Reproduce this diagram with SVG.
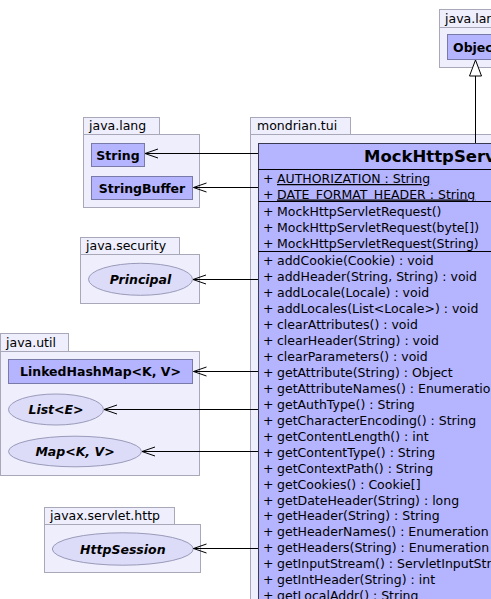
<svg xmlns="http://www.w3.org/2000/svg" width="491" height="599" viewBox="0 0 491 599">
<style>
  text { font-family: "DejaVu Sans", "Liberation Sans", sans-serif; font-size: 12.5px; fill: #000; }
  .pkg { fill: #EEEEFC; stroke: #A8A8B8; stroke-width: 1; }
  .cls { fill: #B4B4FF; stroke: #7A7AA8; stroke-width: 1; }
  .big { fill: #B4B4FF; stroke: #3A3A50; stroke-width: 1; }
  .ifc { fill: #DCDCF8; stroke: #9A9ABA; stroke-width: 1; }
  .b { font-weight: bold; }
  .bi { font-weight: bold; font-style: italic; }
  .c { text-anchor: middle; }
  .sep { stroke: #000; stroke-width: 1; }
  .edge { stroke: #000; stroke-width: 1; fill: none; }
  .u { text-decoration: underline; }
</style>
<defs>
  <marker id="open" markerUnits="userSpaceOnUse" viewBox="-15 -6 16 12" refX="0" refY="0" markerWidth="16" markerHeight="12" orient="auto" overflow="visible">
    <path d="M-13,-4.5 L0,0 L-13,4.5" fill="none" stroke="#000" stroke-width="1"/>
  </marker>
  <marker id="tri" markerUnits="userSpaceOnUse" viewBox="-17 -7 18 14" refX="0" refY="0" markerWidth="18" markerHeight="14" orient="auto" overflow="visible">
    <path d="M0,0 L-16,-6 L-16,6 Z" fill="#fff" stroke="#000" stroke-width="1"/>
  </marker>
</defs>

<!-- packages -->
<g id="pkg-java-lang-top">
  <rect class="pkg" x="439.5" y="9.5" width="70" height="18"/>
  <rect class="pkg" x="439.5" y="27.5" width="70" height="40"/>
  <text x="445" y="23">java.lang</text>
</g>
<g id="pkg-mondrian-tui">
  <rect class="pkg" x="250.5" y="117.5" width="100" height="17"/>
  <rect class="pkg" x="250.5" y="134.5" width="260" height="480"/>
  <text x="257" y="130">mondrian.tui</text>
</g>
<g id="pkg-java-lang">
  <rect class="pkg" x="83.5" y="117.5" width="76" height="17"/>
  <rect class="pkg" x="83.5" y="134.5" width="116" height="73"/>
  <text x="89" y="130">java.lang</text>
</g>
<g id="pkg-java-security">
  <rect class="pkg" x="80.5" y="237.5" width="99" height="17"/>
  <rect class="pkg" x="80.5" y="254.5" width="119" height="49"/>
  <text x="86" y="250">java.security</text>
</g>
<g id="pkg-java-util">
  <rect class="pkg" x="0.5" y="333.5" width="68" height="18"/>
  <rect class="pkg" x="0.5" y="351.5" width="199" height="124"/>
  <text x="6" y="347">java.util</text>
</g>
<g id="pkg-javax-servlet-http">
  <rect class="pkg" x="44.5" y="507.5" width="130" height="17"/>
  <rect class="pkg" x="44.5" y="524.5" width="156" height="48"/>
  <text x="50" y="520">javax.servlet.http</text>
</g>

<!-- nodes -->
<g id="node-Object">
  <rect class="cls" x="447.5" y="34.5" width="60" height="25"/>
  <text class="b" x="453" y="51.5">Object</text>
</g>
<g id="node-String">
  <rect class="cls" x="91.5" y="143.5" width="53" height="23"/>
  <text class="b c" x="118" y="159.5">String</text>
</g>
<g id="node-StringBuffer">
  <rect class="cls" x="91.5" y="176.5" width="101" height="23"/>
  <text class="b c" x="142" y="192.5">StringBuffer</text>
</g>
<g id="node-Principal">
  <ellipse class="ifc" cx="140.5" cy="279.3" rx="52" ry="16"/>
  <text class="bi c" x="140.5" y="283.8">Principal</text>
</g>
<g id="node-LinkedHashMap">
  <rect class="cls" x="8.5" y="359.5" width="184" height="24"/>
  <text class="b c" x="100.5" y="376">LinkedHashMap&lt;K, V&gt;</text>
</g>
<g id="node-List">
  <ellipse class="ifc" cx="56" cy="409.5" rx="47.5" ry="15.5"/>
  <text class="bi c" x="56" y="414">List&lt;E&gt;</text>
</g>
<g id="node-Map">
  <ellipse class="ifc" cx="75" cy="451.5" rx="66.5" ry="15.3"/>
  <text class="bi c" x="75" y="456">Map&lt;K, V&gt;</text>
</g>
<g id="node-HttpSession">
  <ellipse class="ifc" cx="122.8" cy="549" rx="70.5" ry="16.2"/>
  <text class="bi c" x="122.8" y="553.5">HttpSession</text>
</g>

<g id="node-MockHttpServletRequest">
  <rect class="big" x="258.5" y="143.5" width="460" height="480"/>
  <text x="364" y="162" style="font-size:16.5px;font-weight:bold">MockHttpServletRequest</text>
  <line class="sep" x1="258.5" y1="169.5" x2="718.5" y2="169.5"/>
  <g>
    <text x="263" y="183">+</text><text class="u" x="277" y="183">AUTHORIZATION : String</text>
    <text x="263" y="198.5">+</text><text class="u" x="277" y="198.5">DATE_FORMAT_HEADER : String</text>
  </g>
  <line class="sep" x1="258.5" y1="201.5" x2="718.5" y2="201.5"/>
  <g>
    <text x="263" y="215.5">+</text><text x="277" y="215.5">MockHttpServletRequest()</text>
    <text x="263" y="231.5">+</text><text x="277" y="231.5">MockHttpServletRequest(byte[])</text>
    <text x="263" y="247.5">+</text><text x="277" y="247.5">MockHttpServletRequest(String)</text>
  </g>
  <line class="sep" x1="258.5" y1="251.5" x2="718.5" y2="251.5"/>
  <g>
    <text x="263" y="265.2">+</text><text x="277" y="265.2">addCookie(Cookie) : void</text>
    <text x="263" y="281.1">+</text><text x="277" y="281.1">addHeader(String, String) : void</text>
    <text x="263" y="297.1">+</text><text x="277" y="297.1">addLocale(Locale) : void</text>
    <text x="263" y="313">+</text><text x="277" y="313">addLocales(List&lt;Locale&gt;) : void</text>
    <text x="263" y="329">+</text><text x="277" y="329">clearAttributes() : void</text>
    <text x="263" y="345">+</text><text x="277" y="345">clearHeader(String) : void</text>
    <text x="263" y="360.9">+</text><text x="277" y="360.9">clearParameters() : void</text>
    <text x="263" y="376.9">+</text><text x="277" y="376.9">getAttribute(String) : Object</text>
    <text x="263" y="392.8">+</text><text x="277" y="392.8">getAttributeNames() : Enumeration</text>
    <text x="263" y="408.8">+</text><text x="277" y="408.8">getAuthType() : String</text>
    <text x="263" y="424.7">+</text><text x="277" y="424.7">getCharacterEncoding() : String</text>
    <text x="263" y="440.7">+</text><text x="277" y="440.7">getContentLength() : int</text>
    <text x="263" y="456.6">+</text><text x="277" y="456.6">getContentType() : String</text>
    <text x="263" y="472.6">+</text><text x="277" y="472.6">getContextPath() : String</text>
    <text x="263" y="488.5">+</text><text x="277" y="488.5">getCookies() : Cookie[]</text>
    <text x="263" y="504.5">+</text><text x="277" y="504.5">getDateHeader(String) : long</text>
    <text x="263" y="520.4">+</text><text x="277" y="520.4">getHeader(String) : String</text>
    <text x="263" y="536.4">+</text><text x="277" y="536.4">getHeaderNames() : Enumeration</text>
    <text x="263" y="552.3">+</text><text x="277" y="552.3">getHeaders(String) : Enumeration</text>
    <text x="263" y="568.3">+</text><text x="277" y="568.3">getInputStream() : ServletInputStream</text>
    <text x="263" y="584.2">+</text><text x="277" y="584.2">getIntHeader(String) : int</text>
    <text x="263" y="600.2">+</text><text x="277" y="600.2">getLocalAddr() : String</text>
  </g>
</g>

<!-- connectors -->
<g id="edges">
  <line class="edge" x1="475.5" y1="143" x2="475.5" y2="60" marker-end="url(#tri)"/>
  <line class="edge" x1="258" y1="153.5" x2="145" y2="153.5" marker-end="url(#open)"/>
  <line class="edge" x1="258" y1="187.5" x2="193.5" y2="187.5" marker-end="url(#open)"/>
  <line class="edge" x1="258" y1="279.5" x2="193" y2="279.5" marker-end="url(#open)"/>
  <line class="edge" x1="258" y1="371.5" x2="193.5" y2="371.5" marker-end="url(#open)"/>
  <line class="edge" x1="258" y1="409.5" x2="104" y2="409.5" marker-end="url(#open)"/>
  <line class="edge" x1="258" y1="451.5" x2="142" y2="451.5" marker-end="url(#open)"/>
  <line class="edge" x1="258" y1="548.5" x2="193.5" y2="548.5" marker-end="url(#open)"/>
</g>
</svg>
